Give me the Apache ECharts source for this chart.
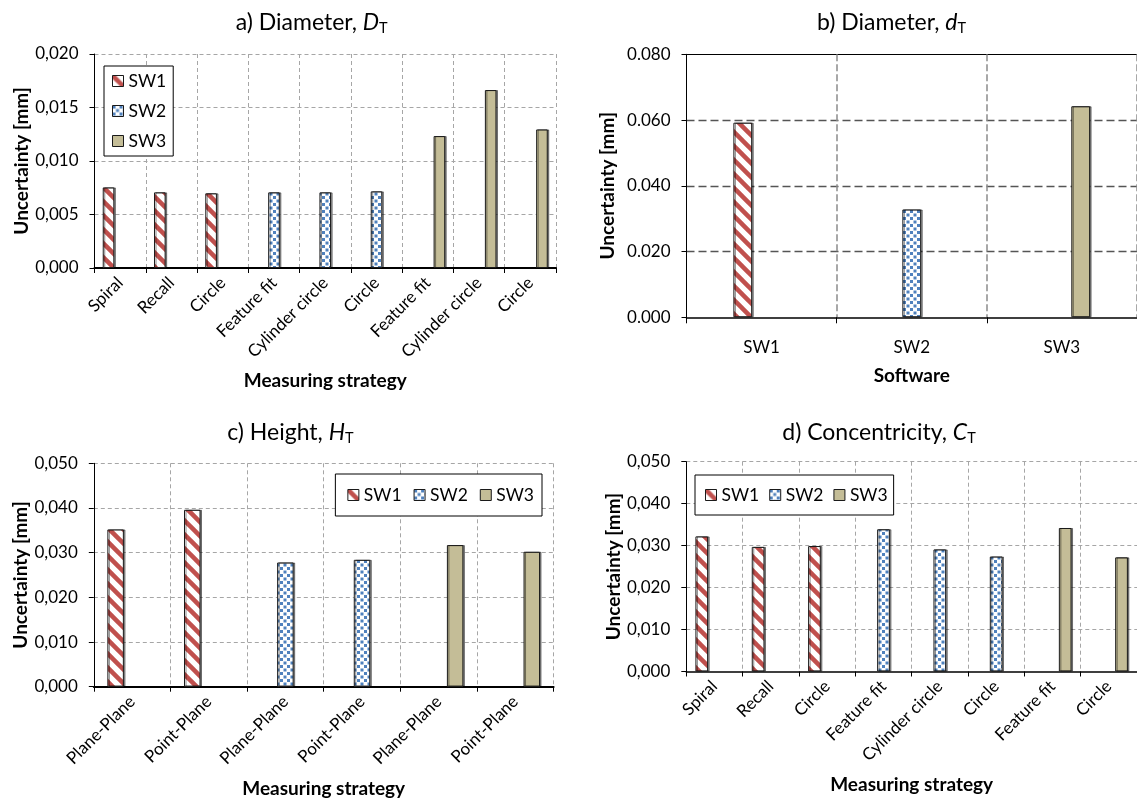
<!DOCTYPE html>
<html><head><meta charset="utf-8">
<script src="https://cdn.jsdelivr.net/npm/echarts@6/dist/echarts.min.js"></script>
<style>html,body{margin:0;padding:0;background:#fff}#c{width:1137px;height:801px}</style>
</head><body><div id="c"></div>
<script>
// ---------- DATA ----------
const seriesNames = ['SW1', 'SW2', 'SW3'];

const catsA = ['Spiral', 'Recall', 'Circle', 'Feature fit', 'Cylinder circle', 'Circle', 'Feature fit', 'Cylinder circle', 'Circle'];
const aSW1 = [0.00753, 0.00707, 0.00698, null, null, null, null, null, null];
const aSW2 = [null, null, null, 0.00707, 0.00707, 0.00716, null, null, null];
const aSW3 = [null, null, null, null, null, null, 0.01233, 0.01663, 0.01295];

const catsB = ['SW1', 'SW2', 'SW3'];
const bSW1 = [0.0592, null, null];
const bSW2 = [null, 0.0328, null];
const bSW3 = [null, null, 0.0642];

const catsC = ['Plane-Plane', 'Point-Plane', 'Plane-Plane', 'Point-Plane', 'Plane-Plane', 'Point-Plane'];
const cSW1 = [0.0352, 0.0396, null, null, null, null];
const cSW2 = [null, null, 0.0278, 0.0284, null, null];
const cSW3 = [null, null, null, null, 0.0317, 0.0302];

const catsD = ['Spiral', 'Recall', 'Circle', 'Feature fit', 'Cylinder circle', 'Circle', 'Feature fit', 'Circle'];
const dSW1 = [0.0322, 0.0297, 0.0299, null, null, null, null, null];
const dSW2 = [null, null, null, 0.0339, 0.0291, 0.0274, null, null];
const dSW3 = [null, null, null, null, null, null, 0.0342, 0.0272];

const titlesText = ['a) Diameter, {i|D}{s|T}', 'b) Diameter, {i|d}{s|T}', 'c) Height, {i|H}{s|T}', 'd) Concentricity, {i|C}{s|T}'];
const yName = 'Uncertainty [mm]';
const xNames = ['Measuring strategy', 'Software', 'Measuring strategy', 'Measuring strategy'];

// ---------- STYLE ----------
const FONT = 'Lato, "Noto Sans", sans-serif';

function stripePattern() {
  const S = 14, c = document.createElement('canvas');
  c.width = S; c.height = S;
  const g = c.getContext('2d');
  g.fillStyle = '#fff'; g.fillRect(0, 0, S, S);
  g.strokeStyle = '#C0504D'; g.lineWidth = 4.5;
  for (let k = -1; k <= 1; k++) {
    g.beginPath(); g.moveTo(k * S - 2, -2); g.lineTo(k * S + S + 2, S + 2); g.stroke();
  }
  return { image: c, repeat: 'repeat' };
}
function dotPattern() {
  const S = 7, c = document.createElement('canvas');
  c.width = S; c.height = S;
  const g = c.getContext('2d');
  g.fillStyle = '#fff'; g.fillRect(0, 0, S, S);
  g.fillStyle = '#4F81BD';
  g.fillRect(0, 0, 3, 3);
  g.fillRect(3.5, 3.5, 3, 3);
  return { image: c, repeat: 'repeat' };
}
const fills = [stripePattern(), dotPattern(), '#C4BD97'];

const gridDefs = [
  { left: 94.5, right: 581, top: 54, bottom: 533 },
  { left: 686.5, right: -4, top: 54.3, bottom: 483.7 },
  { left: 93.8, right: 583.4, top: 463.3, bottom: 114.3 },
  { left: 686.3, right: -3.5, top: 461.7, bottom: 129.5 }
];
const cats = [catsA, catsB, catsC, catsD];
const data = [[aSW1, aSW2, aSW3], [bSW1, bSW2, bSW3], [cSW1, cSW2, cSW3], [dSW1, dSW2, dSW3]];
const yMax = [0.02, 0.08, 0.05, 0.05];
const yInt = [0.005, 0.02, 0.01, 0.01];
const decSep = [',', '.', ',', ','];
const barW = [11.6, 18.8, 16.5, 12.7];
const yNameGap = [61, 69, 63, 63];
const xNameGap = [103, 49, 93, 104];
const xLineW = [2, 1.5, 2, 1.5];
const titlePos = [[306.7, 5], [886.5, 5], [285.4, 415], [874, 415]];

const lightLine = { color: '#a6a6a6', type: [4, 3], width: 1 };

const xAxes = [], yAxes = [], series = [], titles = [];
for (let p = 0; p < 4; p++) {
  const isB = p === 1;
  titles.push({
    text: titlesText[p], left: titlePos[p][0], top: titlePos[p][1], textAlign: 'center',
    textStyle: {
      fontFamily: FONT, fontSize: 23, fontWeight: 'normal', color: '#000',
      rich: {
        i: { fontFamily: FONT, fontSize: 23, fontStyle: 'italic', color: '#000' },
        s: { fontFamily: FONT, fontSize: 14.5, color: '#000', padding: [11, 0, 0, 0] }
      }
    }
  });
  xAxes.push({
    type: 'category', gridIndex: p, data: cats[p],
    name: xNames[p], nameLocation: 'middle', nameGap: xNameGap[p],
    nameTextStyle: { fontFamily: FONT, fontSize: 19, fontWeight: 'bold', color: '#000' },
    axisLine: { show: true, lineStyle: { color: '#000', width: xLineW[p] } },
    axisTick: { show: true, length: isB ? 6 : 5, lineStyle: { color: '#000' } },
    axisLabel: isB
      ? { fontFamily: FONT, fontSize: 17, color: '#000', margin: 22 }
      : { fontFamily: FONT, fontSize: 17, color: '#000', rotate: 45, margin: 12, interval: 0 },
    splitLine: isB
      ? { show: true, interval: 0, showMinLine: false, lineStyle: { color: '#8c8c8c', type: [7, 3], width: 1.5 } }
      : { show: true, interval: 0, showMinLine: false, lineStyle: lightLine },
    z: 1
  });
  const sep = decSep[p];
  yAxes.push({
    type: 'value', gridIndex: p, min: 0, max: yMax[p], interval: yInt[p],
    name: yName, nameLocation: 'middle', nameGap: yNameGap[p],
    nameTextStyle: { fontFamily: FONT, fontSize: 19, fontWeight: 'bold', color: '#000' },
    axisLine: { show: true, lineStyle: { color: '#000', width: 1 } },
    axisTick: { show: true, length: 5, lineStyle: { color: '#000' } },
    axisLabel: {
      fontFamily: FONT, fontSize: 17, color: '#000', margin: 16,
      formatter: v => v.toFixed(3).replace('.', sep)
    },
    splitLine: isB
      ? { show: true, showMinLine: false, showMaxLine: false, lineStyle: { color: '#555', type: [8, 4], width: 1.3 } }
      : { show: true, showMinLine: false, lineStyle: lightLine },
    z: 0
  });
  for (let s = 0; s < 3; s++) {
    series.push({
      type: 'bar', name: seriesNames[s], xAxisIndex: p, yAxisIndex: p,
      data: data[p][s], barWidth: barW[p], barGap: '0%',
      itemStyle: {
        color: fills[s], borderColor: '#1a1a1a', borderWidth: 1,
        shadowColor: 'rgba(0,0,0,0.45)', shadowOffsetX: 1.5, shadowOffsetY: 0, shadowBlur: 0
      },
      emphasis: { disabled: true }
    });
  }
}
// solid top border of panel b
xAxes.push({
  type: 'category', gridIndex: 1, data: catsB, position: 'top',
  axisLine: { show: true, lineStyle: { color: '#000', width: 1.2 } },
  axisTick: { show: false }, axisLabel: { show: false }, splitLine: { show: false }
});

const legendBase = {
  data: seriesNames, itemWidth: 11, itemHeight: 11, icon: 'rect',
  backgroundColor: '#fff', borderColor: '#000', borderWidth: 1, borderRadius: 0,
  textStyle: { fontFamily: FONT, fontSize: 17.5, color: '#000', lineHeight: 18 },
  itemStyle: { shadowColor: 'transparent', shadowOffsetX: 0, shadowBlur: 0, borderColor: '#1a1a1a', borderWidth: 1 },
  selectedMode: false
};
const legends = [
  Object.assign({}, legendBase, { orient: 'vertical', left: 104, top: 66, padding: [6, 7, 6, 8], itemGap: 12 }),
  Object.assign({}, legendBase, { orient: 'horizontal', right: 595, top: 474, padding: [12, 8, 12, 12], itemGap: 12 }),
  Object.assign({}, legendBase, { orient: 'horizontal', left: 695, top: 475, padding: [11, 6, 11, 10], itemGap: 10 })
];

const chart = echarts.init(document.getElementById('c'), null, { renderer: 'canvas' });
chart.setOption({
  animation: false,
  backgroundColor: '#fff',
  title: titles,
  legend: legends,
  grid: gridDefs.map(g => Object.assign({ containLabel: false }, g)),
  xAxis: xAxes,
  yAxis: yAxes,
  series: series
});
</script>
</body></html>
